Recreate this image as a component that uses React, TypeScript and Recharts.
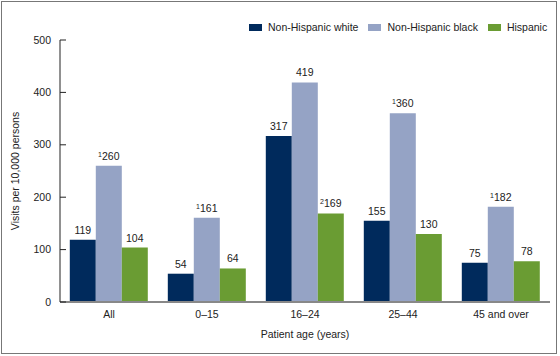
import React from 'react';
import { BarChart, Bar, XAxis, YAxis, LabelList } from 'recharts';

const categories = ['All', '0\u201315', '16\u201324', '25\u201344', '45 and over'];
const whiteValues = [119, 54, 317, 155, 75];
const blackValues = [260, 161, 419, 360, 182];
const hispanicValues = [104, 64, 169, 130, 78];
const whiteNotes = ['', '', '', '', ''];
const blackNotes = ['1', '1', '', '1', '1'];
const hispanicNotes = ['', '', '2', '', ''];
const yTicks = [0, 100, 200, 300, 400, 500];

const series = [
  { key: 'white', name: 'Non-Hispanic white', color: '#002a5c', notes: whiteNotes },
  { key: 'black', name: 'Non-Hispanic black', color: '#95a3c5', notes: blackNotes },
  { key: 'hispanic', name: 'Hispanic', color: '#6a9c33', notes: hispanicNotes },
];

const data = categories.map((c, i) => ({
  category: c,
  white: whiteValues[i],
  black: blackValues[i],
  hispanic: hispanicValues[i],
}));

const FONT = 'Liberation Sans, Arial, sans-serif';

const makeLabel = (notes: string[]) => (props: any) => {
  const { x, y, width, value, index } = props;
  const note = notes[index];
  return (
    <text x={x + width / 2} y={y - 6} textAnchor="middle" fontSize={10.5} fontFamily={FONT} fill="#222">
      {note ? (
        <tspan fontSize={7} dy={-3}>
          {note}
        </tspan>
      ) : null}
      <tspan dy={note ? 3 : 0}>{value}</tspan>
    </text>
  );
};

const YTick = (props: any) => {
  const { x, y, payload } = props;
  return (
    <g>
      <line x1={x + 9} x2={x + 15} y1={y} y2={y} stroke="#222" strokeWidth={1} />
      <text x={x} y={y} dy={3.5} textAnchor="end" fontSize={10.5} fontFamily={FONT} fill="#222">
        {payload.value}
      </text>
    </g>
  );
};

export default function App() {
  return (
    <div
      style={{
        position: 'absolute',
        top: 0,
        left: 0,
        width: 560,
        height: 356,
        background: '#fff',
      }}
    >
      <div
        style={{
          position: 'absolute',
          top: 1,
          left: 1,
          width: 556,
          height: 353,
          border: '1px solid #777',
          boxSizing: 'border-box',
        }}
      />
      <div
        style={{
          position: 'absolute',
          top: 21,
          left: 249,
          width: 310,
          whiteSpace: 'nowrap',
          zIndex: 1,
          display: 'flex',
          alignItems: 'center',
          fontFamily: FONT,
          fontSize: 10.5,
          color: '#222',
        }}
      >
        {series.map((s) => (
          <div key={s.key} style={{ display: 'flex', alignItems: 'center', marginRight: 10, flexShrink: 0 }}>
            <span style={{ display: 'inline-block', width: 13, height: 7, background: s.color, marginRight: 6 }} />
            <span>{s.name}</span>
          </div>
        ))}
      </div>
      <BarChart
        width={560}
        height={356}
        data={data}
        margin={{ top: 40, right: 10, bottom: 24, left: 20 }}
        barCategoryGap="10%"
        barGap={0}
      >
        <XAxis
          dataKey="category"
          tickLine={false}
          tickSize={0}
          tickMargin={9}
          axisLine={{ stroke: '#888', strokeWidth: 2 }}
          tick={{ fontSize: 10.5, fontFamily: FONT, fill: '#222' }}
          height={30}
          label={{
            content: (p: any) => {
              const vb = p.viewBox;
              return (
                <text x={vb.x + vb.width / 2} y={vb.y + 36} textAnchor="middle" fontSize={10.5} fontFamily={FONT} fill="#222">
                  Patient age (years)
                </text>
              );
            },
          }}
        />
        <YAxis
          domain={[0, 500]}
          ticks={yTicks}
          width={40}
          tickLine={false}
          tickSize={0}
          tickMargin={9}
          axisLine={{ stroke: '#222' }}
          tick={<YTick />}
          label={{
            content: (p: any) => {
              const vb = p.viewBox;
              const cx = vb.x - 1;
              const cy = vb.y + vb.height / 2;
              return (
                <text
                  x={cx}
                  y={cy}
                  transform={`rotate(-90 ${cx} ${cy})`}
                  textAnchor="middle"
                  fontSize={10.5}
                  fontFamily={FONT}
                  fill="#222"
                >
                  Visits per 10,000 persons
                </text>
              );
            },
          }}
        />
        {series.map((s) => (
          <Bar key={s.key} dataKey={s.key} name={s.name} fill={s.color} isAnimationActive={false}>
            <LabelList dataKey={s.key} content={makeLabel(s.notes)} />
          </Bar>
        ))}
      </BarChart>
    </div>
  );
}
